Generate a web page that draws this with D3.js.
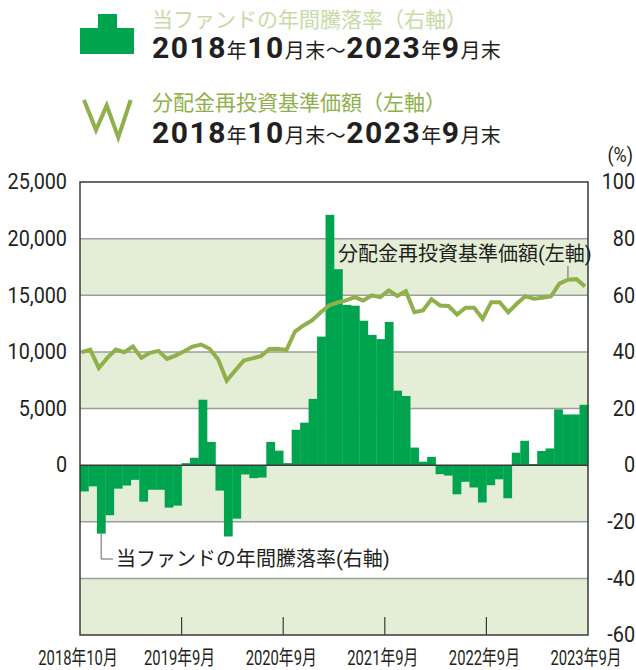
<!DOCTYPE html>
<html>
<head>
<meta charset="utf-8">
<script src="https://cdn.jsdelivr.net/npm/d3@7"></script>
<style>
  body { margin: 0; background: #fff; }
  text { font-family: Roboto, "Noto Sans CJK JP", sans-serif; fill: #231f20; }
</style>
</head>
<body>
<div id="chart"></div>
<script>
// monthly periods 2018/10 .. 2023/9
const months = d3.range(60).map(i => {
    const d = new Date(2018, 9 + i, 1);
    return d.getFullYear() + "-" + (d.getMonth() + 1);
});

// 年間騰落率 (%), right axis
const annualReturn = [
    -9.3, -7.5, -24.2, -17.7, -8.3, -7.2, -5.2, -12.9, -8.7, -8.7, -15.0, -14.3,
    0.7, 2.6, 23.1, 8.2, -9.0, -25.2, -18.9, -3.3, -4.6, -4.4, 8.2, 5.1,
    0.7, 12.5, 15.0, 23.4, 45.4, 88.4, 69.2, 56.6, 56.3, 51.0, 46.0, 44.5,
    50.6, 26.3, 24.4, 6.2, 1.2, 2.9, -3.2, -3.7, -10.3, -5.9, -7.9, -13.2,
    -7.1, -5.0, -11.7, 4.4, 8.6, 0.4, 5.0, 5.9, 19.7, 17.9, 17.9, 21.3
];

// 分配金再投資基準価額 (円), left axis
const navValues = [
    9970, 10200, 8580, 9470, 10200, 9970, 10470, 9470, 9910, 10090, 9380, 9670,
    10050, 10470, 10650, 10270, 9330, 7460, 8350, 9230, 9430, 9630, 10250, 10270,
    10160, 11800, 12330, 12770, 13480, 14100, 14360, 14540, 14830, 14540, 14980, 14830,
    15420, 14940, 15360, 13500, 13650, 14650, 14100, 14050, 13300, 13900, 13900, 12920,
    14390, 14390, 13500, 14250, 14920, 14690, 14780, 14890, 16020, 16370, 16420, 15780
];

const leftTicks = [0, 5000, 10000, 15000, 20000, 25000];
const rightTicks = [-60, -40, -20, 0, 20, 40, 60, 80, 100];
const xTickLabels = ["2018年10月", "2019年9月", "2020年9月", "2021年9月", "2022年9月", "2023年9月"];
const xTickIndex = [0, 12, 24, 36, 48, 60];

const W = 636, H = 670;
const plot = {left: 80, right: 588, top: 182, bottom: 635};

const barColor = "#00a44f";
const lineColor = "#8fb04b";
const bandColor = "#e4eed6";

const svg = d3.select("#chart").append("svg")
    .attr("width", W)
    .attr("height", H);

const x = d3.scaleBand()
    .domain(months)
    .range([plot.left, plot.right])
    .padding(0);

const xp = d3.scalePoint()
    .domain(months)
    .range([plot.left + 1.7, plot.right - 3]);

const yR = d3.scaleLinear().domain([-60, 100]).range([plot.bottom, plot.top]);
const yL = d3.scaleLinear().domain([-15000, 25000]).range([plot.bottom, plot.top]);

// background bands
const bands = d3.pairs(rightTicks).filter((p, i) => i % 2 === 0);
svg.append("g").selectAll("rect")
    .data(bands)
    .enter()
    .append("rect")
    .attr("x", plot.left)
    .attr("width", plot.right - plot.left)
    .attr("y", d => yR(d[1]))
    .attr("height", d => yR(d[0]) - yR(d[1]))
    .attr("fill", bandColor);

// grid lines
svg.append("g").selectAll("line")
    .data(rightTicks.filter(t => t !== -60 && t !== 100 && t !== 0))
    .enter()
    .append("line")
    .attr("x1", plot.left).attr("x2", plot.right)
    .attr("y1", d => yR(d)).attr("y2", d => yR(d))
    .attr("stroke", "#9d9d9d")
    .attr("stroke-width", 1.5);

// bars
svg.append("g").selectAll("rect")
    .data(annualReturn)
    .enter()
    .append("rect")
    .attr("x", (d, i) => x(months[i]))
    .attr("width", x.bandwidth() + 0.3)
    .attr("y", d => yR(Math.max(0, d)))
    .attr("height", d => Math.abs(yR(d) - yR(0)))
    .attr("fill", barColor);

// zero line
svg.append("line")
    .attr("x1", plot.left).attr("x2", plot.right)
    .attr("y1", yR(0)).attr("y2", yR(0))
    .attr("stroke", "#3a3a3a")
    .attr("stroke-width", 1.5);

// x ticks (inside, from bottom)
svg.append("g").selectAll("line")
    .data(xTickIndex.slice(1, -1))
    .enter()
    .append("line")
    .attr("x1", d => plot.left + d * x.step())
    .attr("x2", d => plot.left + d * x.step())
    .attr("y1", plot.bottom)
    .attr("y2", plot.bottom - 18)
    .attr("stroke", "#3a3a3a")
    .attr("stroke-width", 1.2);

// NAV line
const line = d3.line()
    .x((d, i) => xp(months[i]))
    .y(d => yL(d));

svg.append("path")
    .datum(navValues)
    .attr("d", line)
    .attr("fill", "none")
    .attr("stroke", lineColor)
    .attr("stroke-width", 4)
    .attr("stroke-linejoin", "miter");

// frame
svg.append("rect")
    .attr("x", plot.left).attr("y", plot.top)
    .attr("width", plot.right - plot.left)
    .attr("height", plot.bottom - plot.top)
    .attr("fill", "none")
    .attr("stroke", "#3a3a3a")
    .attr("stroke-width", 1.5);

// left axis labels
svg.append("g").selectAll("text")
    .data(leftTicks)
    .enter()
    .append("text")
    .attr("transform", d => `translate(67,${yL(d)}) scale(0.9,1)`)
    .attr("text-anchor", "end")
    .attr("dominant-baseline", "central")
    .style("font-size", "22px")
    .text(d => d3.format(",")(d));

// right axis labels
svg.append("g").selectAll("text")
    .data(rightTicks)
    .enter()
    .append("text")
    .attr("transform", d => `translate(635,${yR(d)}) scale(0.9,1)`)
    .attr("text-anchor", "end")
    .attr("dominant-baseline", "central")
    .style("font-size", "22px")
    .text(d => d);

svg.append("text")
    .attr("transform", "translate(633,162) scale(0.9,1)")
    .attr("text-anchor", "end")
    .style("font-size", "20px")
    .text("(%)");

// bottom labels
svg.append("g").selectAll("text")
    .data(xTickLabels)
    .enter()
    .append("text")
    .attr("transform", (d, i) => `translate(${plot.left + xTickIndex[i] * x.step() - 2},665) scale(0.74,1)`)
    .attr("text-anchor", "middle")
    .style("font-size", "20px")
    .text(d => d);

// annotations
const a57 = months[57];
svg.append("line")
    .attr("x1", xp(a57)).attr("x2", xp(a57))
    .attr("y1", 266).attr("y2", yL(navValues[57]) - 2)
    .attr("stroke", "#666").attr("stroke-width", 1);
svg.append("text")
    .attr("x", 338).attr("y", 261)
    .style("font-size", "20px")
    .text("分配金再投資基準価額(左軸)");

const bx = x(months[2]) + x.bandwidth() / 2;
svg.append("path")
    .attr("d", `M${bx},${yR(annualReturn[2])}V559H113`)
    .attr("fill", "none")
    .attr("stroke", "#666").attr("stroke-width", 1);
svg.append("text")
    .attr("x", 116).attr("y", 566)
    .style("font-size", "20px")
    .text("当ファンドの年間騰落率(右軸)");

// legend
const legend = svg.append("g");
legend.append("path")
    .attr("d", "M80,28H98V14H117V28H134V54H80Z")
    .attr("fill", barColor);
legend.append("polyline")
    .attr("points", "84,100 96,130 106.7,105.5 118.3,137.5 130.7,100")
    .attr("fill", "none")
    .attr("stroke", lineColor)
    .attr("stroke-width", 4);

legend.append("text")
    .attr("x", 152).attr("y", 27)
    .style("font-size", "21px")
    .style("fill", "#c8daa8")
    .text("当ファンドの年間騰落率（右軸）");
legend.append("text")
    .attr("x", 152).attr("y", 110)
    .style("font-size", "21px")
    .style("fill", lineColor)
    .text("分配金再投資基準価額（左軸）");

const periodParts = [["2018", true], ["年", false], ["10", true], ["月末", false], ["～", false],
    ["2023", true], ["年", false], ["9", true], ["月末", false]];

[58, 143].forEach(by => {
    const t = legend.append("text").attr("x", 152).attr("y", by);
    periodParts.forEach(p => {
        t.append("tspan")
            .style("font-size", p[1] ? "30px" : "20px")
            .style("font-weight", p[1] ? "700" : "400")
            .style("letter-spacing", p[1] ? "1.5px" : "0.5px")
            .text(p[0]);
    });
});
</script>
</body>
</html>
